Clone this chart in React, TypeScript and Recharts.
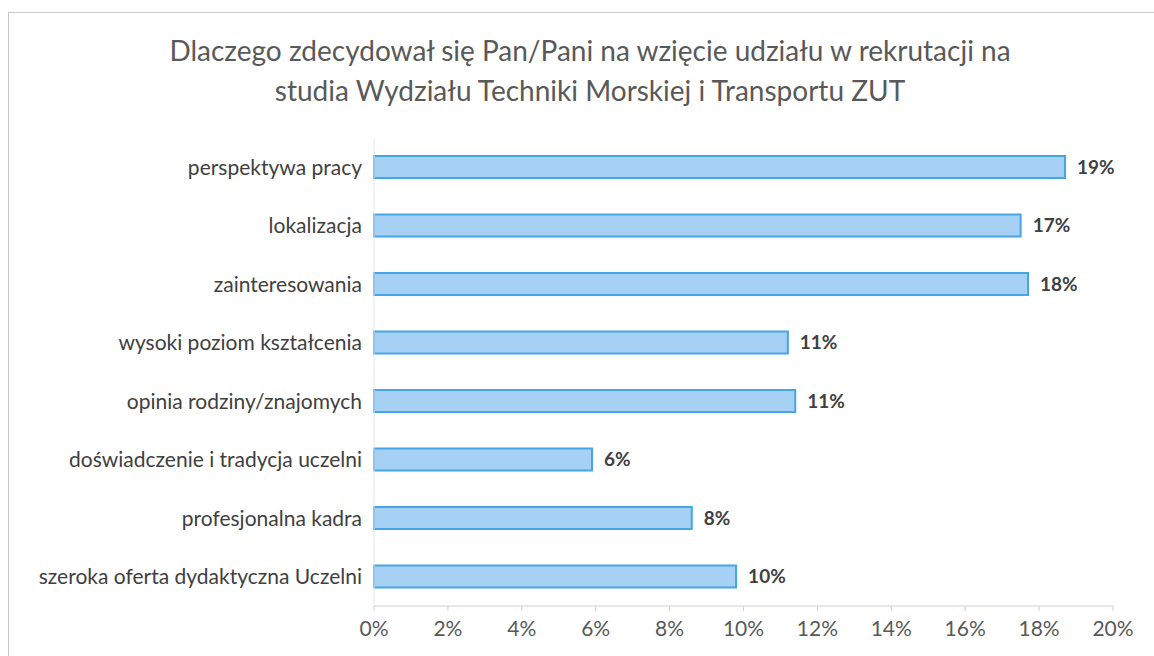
import React from "react";
import { BarChart, Bar, XAxis, YAxis, LabelList } from "recharts";

const categories = [
  "perspektywa pracy",
  "lokalizacja",
  "zainteresowania",
  "wysoki poziom kształcenia",
  "opinia rodziny/znajomych",
  "doświadczenie i tradycja uczelni",
  "profesjonalna kadra",
  "szeroka oferta dydaktyczna Uczelni",
];

const shares = [18.7, 17.5, 17.7, 11.2, 11.4, 5.9, 8.6, 9.8];

const shareLabels = ["19%", "17%", "18%", "11%", "11%", "6%", "8%", "10%"];

const xTicks = [0, 2, 4, 6, 8, 10, 12, 14, 16, 18, 20];

const title = [
  "Dlaczego zdecydował się Pan/Pani na wzięcie udziału w rekrutacji na",
  "studia Wydziału Techniki Morskiej i Transportu ZUT",
];

const data = categories.map((name, i) => ({
  name,
  value: shares[i],
  label: shareLabels[i],
}));

const FONT = "Lato, 'Open Sans', sans-serif";

export default function App() {
  return (
    <div
      style={{
        position: "absolute",
        top: 0,
        left: 0,
        width: 1154,
        height: 656,
        background: "#fff",
        fontFamily: FONT,
      }}
    >
      <div
        style={{
          position: "absolute",
          left: 8,
          top: 12,
          right: 0,
          bottom: 0,
          borderTop: "1px solid #c8c8c8",
          borderLeft: "1px solid #c8c8c8",
        }}
      />
      <div
        style={{
          position: "absolute",
          left: 0,
          top: 30,
          width: 1180,
          textAlign: "center",
          fontSize: 28,
          lineHeight: "40px",
          color: "#595959",
        }}
      >
        {title.map((t) => (
          <div key={t}>{t}</div>
        ))}
      </div>
      <BarChart
        width={1154}
        height={656}
        data={data}
        layout="vertical"
        margin={{ top: 138, right: 41, bottom: 0, left: 0 }}
        barCategoryGap={18}
        style={{ position: "absolute", top: 0, left: 0 }}
      >
        <XAxis
          type="number"
          domain={[0, 20]}
          ticks={xTicks}
          tickFormatter={(v) => `${v}%`}
          interval={0}
          height={50}
          axisLine={{ stroke: "#d0d0d0" }}
          tickLine={{ stroke: "#d0d0d0" }}
          tickSize={5}
          tickMargin={10}
          tick={{ fontSize: 21, fill: "#595959", fontFamily: FONT }}
        />
        <YAxis
          type="category"
          dataKey="name"
          width={374}
          axisLine={{ stroke: "#e6e6e6" }}
          tickLine={false}
          tickSize={0}
          tickMargin={12}
          interval={0}
          tick={{ fontSize: 21, fill: "#404040", fontFamily: FONT }}
        />
        <Bar
          dataKey="value"
          fill="#a6d1f5"
          stroke="#45a5e6"
          strokeWidth={2}
          barSize={22}
          isAnimationActive={false}
        >
          <LabelList
            dataKey="label"
            position="right"
            offset={12}
            style={{ fontSize: 19, fontWeight: 700, fill: "#404040", fontFamily: FONT }}
          />
        </Bar>
      </BarChart>
    </div>
  );
}
